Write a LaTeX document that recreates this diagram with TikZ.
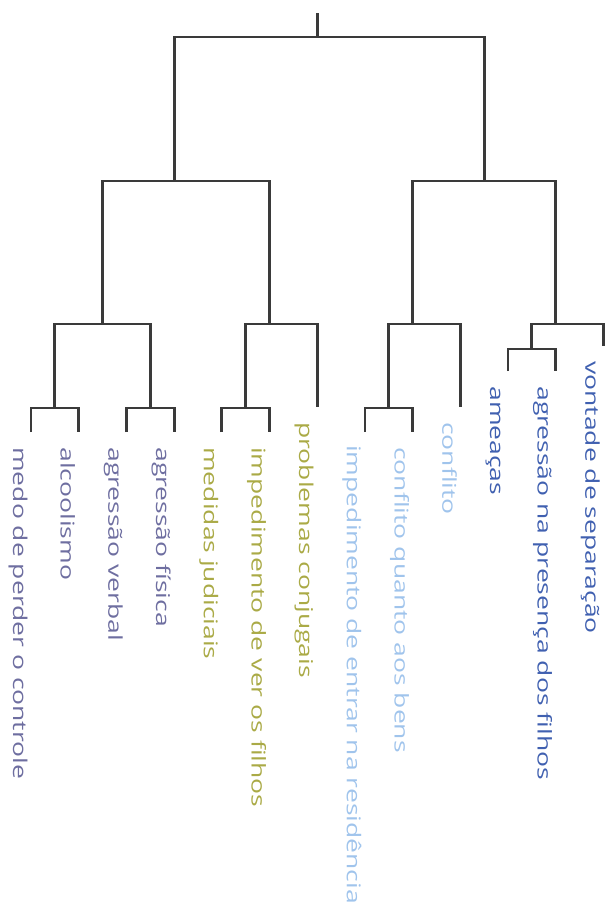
\documentclass[tikz,border=0pt]{standalone}
\usepackage{fontspec}
\setmainfont{Open Sans}
\usetikzlibrary{calc}

\definecolor{linkgray}{RGB}{58,58,58}
\definecolor{grpA}{RGB}{110,110,160}
\definecolor{grpB}{RGB}{170,170,70}
\definecolor{grpC}{RGB}{160,196,236}
\definecolor{grpD}{RGB}{64,96,176}

\tikzset{
  link/.style={draw=linkgray, line width=2.8pt},
  lbl/.style={rotate=-90, xscale=1.395, anchor=base west, inner sep=0pt, font=\fontsize{19}{19}\selectfont}
}

\begin{document}
\begin{tikzpicture}[x=1pt,y=-1pt]
\useasboundingbox (0,0) rectangle (606,906);

      % Leaf ends
      \coordinate (l1) at (31,432);
      \coordinate (l2) at (78.7,432);
      \coordinate (l3) at (126.4,432);
      \coordinate (l4) at (174.1,432);
      \coordinate (l5) at (221.8,432);
      \coordinate (l6) at (269.5,432);
      \coordinate (l7) at (317.2,407);
      \coordinate (l8) at (364.9,432);
      \coordinate (l9) at (412.6,432);
      \coordinate (l10) at (460.3,407);
      \coordinate (l11) at (508,371);
      \coordinate (l12) at (555.7,371);
      \coordinate (l13) at (603.4,346);

      % Merge points
      \coordinate (a1) at (54.85,408);
      \coordinate (a2) at (150.25,408);
      \coordinate (a3) at (245.65,408);
      \coordinate (a4) at (388.75,408);
      \coordinate (a5) at (531.85,349);
      \coordinate (b1) at (102.55,324);
      \coordinate (b2) at (269.5,324);
      \coordinate (b3) at (412.6,324);
      \coordinate (b4) at (555.7,324);
      \coordinate (c1) at (174.1,181);
      \coordinate (c2) at (484.15,181);
      \coordinate (root) at (317.2,37);
      \coordinate (top) at (317.2,13);

      % Links
      \draw[link] (l1) |- (a1) -| (l2);
      \draw[link] (l3) |- (a2) -| (l4);
      \draw[link] (l5) |- (a3) -| (l6);
      \draw[link] (l8) |- (a4) -| (l9);
      \draw[link] (l11) |- (a5) -| (l12);
      \draw[link] (a1) |- (b1) -| (a2);
      \draw[link] (a3) |- (b2) -| (l7);
      \draw[link] (a4) |- (b3) -| (l10);
      \draw[link] (a5) |- (b4) -| (l13);
      \draw[link] (b1) |- (c1) -| (b2);
      \draw[link] (b3) |- (c2) -| (b4);
      \draw[link] (c1) |- (root) -| (c2);
      \draw[link] (root) -- (top);

      % Labels
      \node[lbl, text=grpA] (t1) at ($(l1)+(-18,15)$) {medo de perder o controle};
      \node[lbl, text=grpA] (t2) at ($(l2)+(-18,15)$) {alcoolismo};
      \node[lbl, text=grpA] (t3) at ($(l3)+(-18,15)$) {agressão verbal};
      \node[lbl, text=grpA] (t4) at ($(l4)+(-18,15)$) {agressão física};
      \node[lbl, text=grpB] (t5) at ($(l5)+(-18,15)$) {medidas judiciais};
      \node[lbl, text=grpB] (t6) at ($(l6)+(-18,15)$) {impedimento de ver os filhos};
      \node[lbl, text=grpB] (t7) at ($(l7)+(-18,15)$) {problemas conjugais};
      \node[lbl, text=grpC] (t8) at ($(l8)+(-18,13)$) {impedimento de entrar na residência};
      \node[lbl, text=grpC] (t9) at ($(l9)+(-18,15)$) {conflito quanto aos bens};
      \node[lbl, text=grpC] (t10) at ($(l10)+(-18,15)$) {conflito};
      \node[lbl, text=grpD] (t11) at ($(l11)+(-18,15)$) {ameaças};
      \node[lbl, text=grpD] (t12) at ($(l12)+(-18,15)$) {agressão na presença dos filhos};
      \node[lbl, text=grpD] (t13) at ($(l13)+(-18,15)$) {vontade de separação};

\end{tikzpicture}
\end{document}
